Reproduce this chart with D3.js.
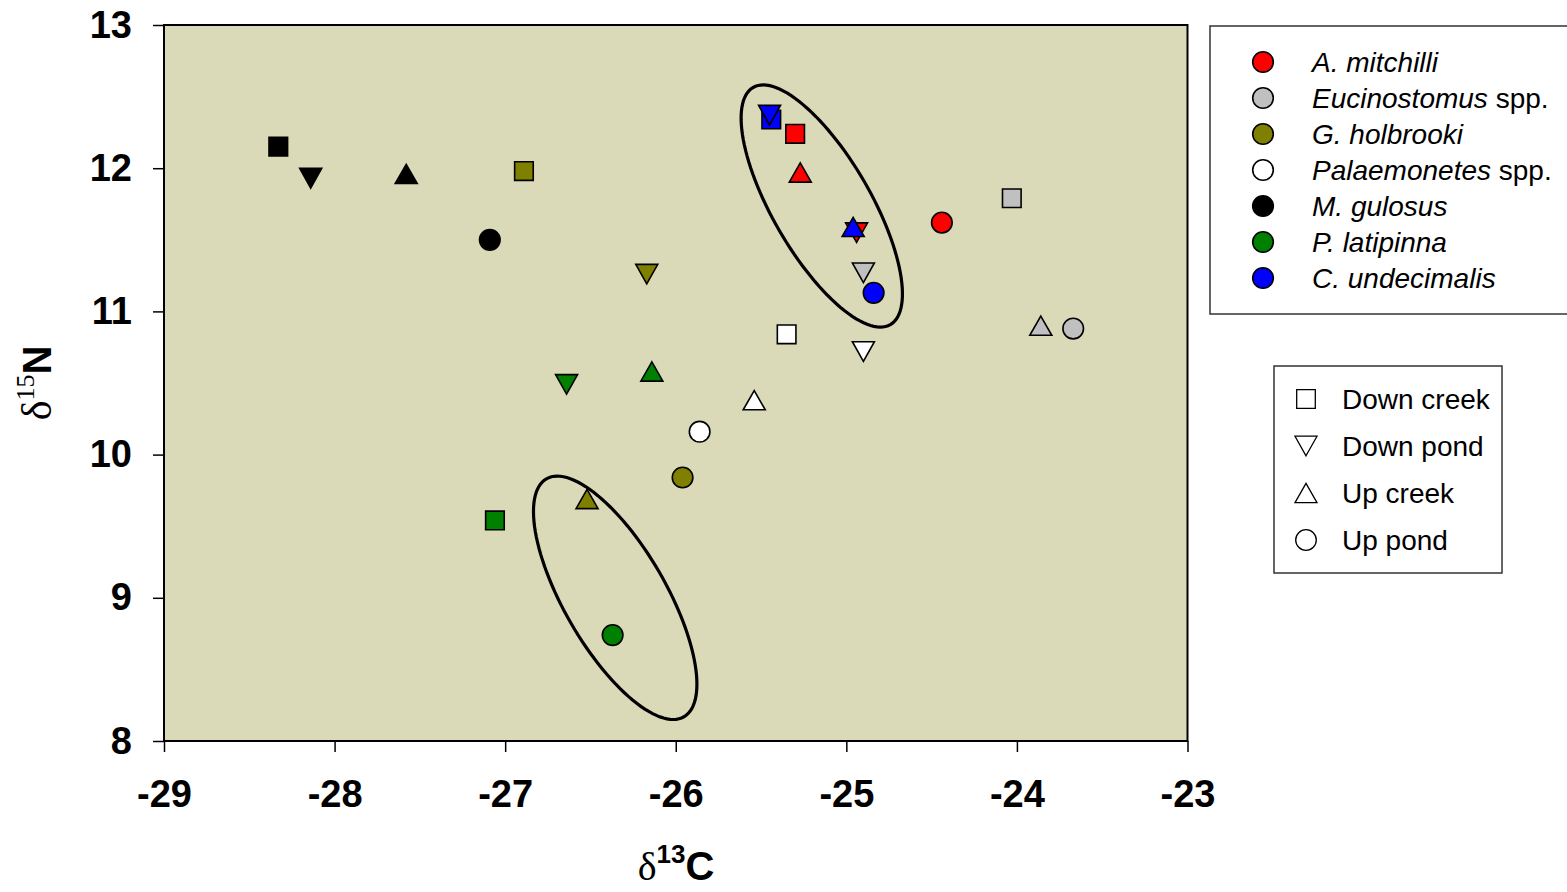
<!DOCTYPE html>
<html><head><meta charset="utf-8">
<script src="https://cdn.jsdelivr.net/npm/d3@7"></script>
<style>body{margin:0;background:#fff}svg{display:block}</style></head>
<body><svg id="c" width="1567" height="892"></svg>
<script>
// ---- data ----
const species = ["A. mitchilli","Eucinostomus spp.","G. holbrooki","Palaemonetes spp.","M. gulosus","P. latipinna","C. undecimalis"];
const speciesItalic = ["A. mitchilli","Eucinostomus","G. holbrooki","Palaemonetes","M. gulosus","P. latipinna","C. undecimalis"];
const speciesSuffix = ["","spp.","","spp.","","",""];
const speciesColors = ["#ff0000","#c0c0c0","#808000","#ffffff","#000000","#008000","#0000ff"];
const sites = ["Down creek","Down pond","Up creek","Up pond"];
const siteShapes = ["square","down","up","circle"];
// values per species, in site order: Down creek, Down pond, Up creek, Up pond
const d13C = [
  [-25.30,-24.94,-25.27,-24.44],
  [-24.03,-24.90,-23.86,-23.67],
  [-26.89,-26.17,-26.52,-25.96],
  [-25.35,-24.90,-25.54,-25.86],
  [-28.33,-28.14,-27.58,-27.09],
  [-27.06,-26.64,-26.14,-26.37],
  [-25.44,-25.45,-24.96,-24.84]
];
const d15N = [
  [12.24,11.55,11.97,11.62],
  [11.79,11.27,10.90,10.88],
  [11.98,11.26,9.69,9.84],
  [10.84,10.72,10.38,10.16],
  [12.15,11.93,11.96,11.50],
  [9.54,10.49,10.58,8.74],
  [12.34,12.37,11.59,11.13]
];
const xTicks = [-29,-28,-27,-26,-25,-24,-23];
const yTicks = [8,9,10,11,12,13];
// ellipses: center and semi-axis vectors, in data units
const ellipseCenters = [[-25.144,11.736],[-26.355,9.0]];
const ellipseMajor = [[0.402,-0.828],[0.403,-0.831]];
const ellipseMinor = [[-0.249,-0.171],[-0.259,-0.178]];

// ---- chart ----
const svg = d3.select("#c");
const L=164, R=1187.5, T=25, B=741;
const x = d3.scaleLinear().domain([-29,-23]).range([L,R]);
const y = d3.scaleLinear().domain([8,13]).range([B,T]);

svg.append("rect").attr("x",L).attr("y",T).attr("width",R-L).attr("height",B-T)
  .attr("fill","#dadab8").attr("stroke","#000").attr("stroke-width",2);

const font = "'Liberation Sans', Arial, sans-serif";
const xa = svg.append("g").attr("transform",`translate(0,${B})`)
  .call(d3.axisBottom(x).tickValues(xTicks).tickFormat(d=>d).tickSizeInner(11).tickSizeOuter(0).tickPadding(28));
const ya = svg.append("g").attr("transform",`translate(${L},0)`)
  .call(d3.axisLeft(y).tickValues(yTicks).tickFormat(d=>d).tickSizeInner(11).tickSizeOuter(0).tickPadding(21));
[xa,ya].forEach(g=>{
  g.select(".domain").remove();
  g.selectAll("line").attr("stroke","#000").attr("stroke-width",1.5);
  g.selectAll("text").attr("font-family",font).attr("font-weight","bold").attr("font-size",38).attr("fill","#000");
});

function shapePath(s, cx, cy){
  if(s==="square"){ const h=9.3; return `M${cx-h},${cy-h}H${cx+h}V${cy+h}H${cx-h}Z`; }
  if(s==="up"){ const w=11, h=9.6; return `M${cx},${cy-h}L${cx+w},${cy+h}L${cx-w},${cy+h}Z`; }
  if(s==="down"){ const w=11, h=9.8; return `M${cx},${cy+h}L${cx+w},${cy-h}L${cx-w},${cy-h}Z`; }
  const r=10.3; return `M${cx-r},${cy}A${r},${r} 0 1,0 ${cx+r},${cy}A${r},${r} 0 1,0 ${cx-r},${cy}Z`;
}

const pts = [];
species.forEach((sp,i)=>sites.forEach((st,j)=>pts.push({i,j,c:d13C[i][j],n:d15N[i][j]})));
svg.append("g").selectAll("path").data(pts).join("path")
  .attr("d",d=>shapePath(siteShapes[d.j], x(d.c), y(d.n)))
  .attr("fill",d=>speciesColors[d.i]).attr("stroke","#000").attr("stroke-width",1.6);

// ellipses
const ts = d3.range(0,361,3).map(a=>a*Math.PI/180);
ellipseCenters.forEach((c,k)=>{
  const ptsE = ts.map(t=>[
    x(c[0]+ellipseMajor[k][0]*Math.cos(t)+ellipseMinor[k][0]*Math.sin(t)),
    y(c[1]+ellipseMajor[k][1]*Math.cos(t)+ellipseMinor[k][1]*Math.sin(t))]);
  svg.append("path").attr("d",d3.line().curve(d3.curveLinearClosed)(ptsE))
    .attr("fill","none").attr("stroke","#000").attr("stroke-width",3.2);
});

// axis titles
const xt = svg.append("text").attr("x",676).attr("y",880).attr("text-anchor","middle").attr("fill","#000");
xt.append("tspan").attr("font-family","'Liberation Serif', 'Times New Roman', serif").attr("font-size",40).text("δ");
xt.append("tspan").attr("font-family",font).attr("font-weight","bold").attr("font-size",26).attr("dy",-17).text("13");
xt.append("tspan").attr("font-family",font).attr("font-weight","bold").attr("font-size",40).attr("dy",17).text("C");

const yt = svg.append("text").attr("transform","translate(51,383) rotate(-90)").attr("text-anchor","middle").attr("fill","#000");
yt.append("tspan").attr("font-family","'Liberation Serif', 'Times New Roman', serif").attr("font-size",42).text("δ");
yt.append("tspan").attr("font-family","'Liberation Serif', 'Times New Roman', serif").attr("font-size",26).attr("dy",-17).text("15");
yt.append("tspan").attr("font-family",font).attr("font-weight","bold").attr("font-size",40).attr("dy",17).text("N");

// legend 1: species
const lg1 = svg.append("g");
lg1.append("rect").attr("x",1210).attr("y",26).attr("width",420).attr("height",288)
  .attr("fill","#fff").attr("stroke","#333").attr("stroke-width",1.5);
species.forEach((sp,i)=>{
  const cy = 62 + i*36;
  lg1.append("circle").attr("cx",1263).attr("cy",cy).attr("r",10.3)
    .attr("fill",speciesColors[i]).attr("stroke","#000").attr("stroke-width",1.6);
  const t = lg1.append("text").attr("x",1312).attr("y",cy+10).attr("font-family",font).attr("font-size",28).attr("fill","#000");
  t.append("tspan").attr("font-style","italic").text(speciesItalic[i]);
  if(speciesSuffix[i]) t.append("tspan").text(" "+speciesSuffix[i]);
});

// legend 2: sites
const lg2 = svg.append("g");
lg2.append("rect").attr("x",1274).attr("y",366).attr("width",228).attr("height",207)
  .attr("fill","#fff").attr("stroke","#333").attr("stroke-width",1.5);
sites.forEach((st,j)=>{
  const cy = 399 + j*47;
  lg2.append("path").attr("d",shapePath(siteShapes[j],1306,cy))
    .attr("fill","#fff").attr("stroke","#000").attr("stroke-width",1.3);
  lg2.append("text").attr("x",1342).attr("y",cy+10).attr("font-family",font).attr("font-size",28).attr("fill","#000").text(st);
});
</script></body></html>
